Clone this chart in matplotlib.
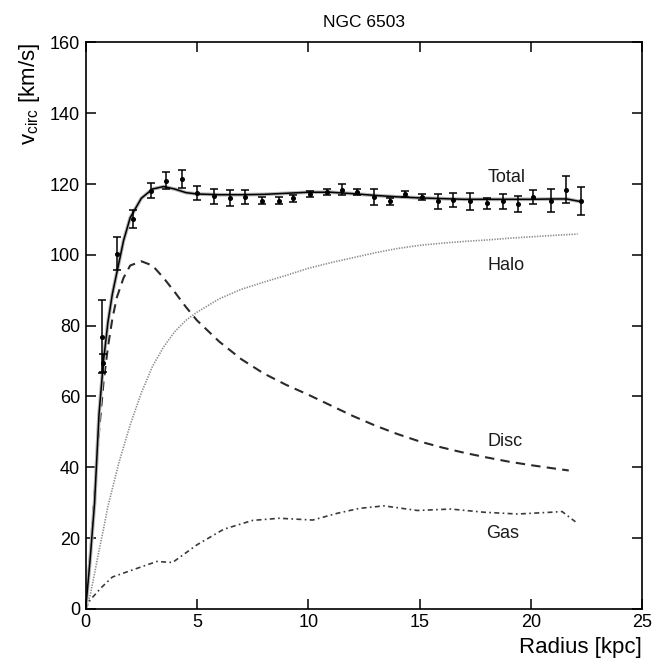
import numpy as np
import matplotlib.pyplot as plt

plt.rcParams['font.family'] = ['Liberation Sans', 'DejaVu Sans']
plt.rcParams['mathtext.default'] = 'regular'

# observed rotation curve
r_obs = [0.75, 0.78, 1.42, 2.14, 2.92, 3.61, 4.31, 4.99, 5.76, 6.48, 7.16, 7.91,
         8.70, 9.33, 10.08, 10.83, 11.53, 12.20, 12.95, 13.67, 14.34, 15.09,
         15.84, 16.51, 17.26, 18.04, 18.73, 19.43, 20.11, 20.89, 21.58, 22.25]
v_obs = [76.9, 69.4, 100.3, 110.1, 118.1, 121.0, 121.5, 117.4, 116.5, 116.0, 116.3,
         115.3, 115.3, 116.0, 117.2, 117.7, 118.4, 117.7, 116.3, 115.1, 117.2,
         116.3, 115.1, 115.5, 115.1, 114.6, 115.1, 114.4, 116.3, 115.3, 118.4, 115.3]
v_err = [10.4, 2.5, 4.7, 2.5, 2.1, 2.5, 2.5, 2.0, 2.0, 2.3, 2.0, 1.0,
         1.0, 1.0, 0.8, 0.8, 1.5, 0.8, 2.3, 1.0, 0.8, 0.8,
         2.0, 2.0, 2.5, 1.5, 2.0, 2.3, 2.0, 3.3, 3.8, 4.0]

# model components
r_tot = [0, 0.2, 0.4, 0.6, 0.8, 1.0, 1.2, 1.4, 1.7, 2.0, 2.5, 3.0, 3.5, 4.0, 4.5,
         5, 6, 7, 8, 9, 10, 11, 12, 13, 14, 15, 16, 17, 18, 19, 20, 21, 21.6, 22.2]
v_tot = [0, 14, 30, 55, 70, 81, 89, 95, 104, 110.5, 116, 118.6, 119.3, 118.6, 117.6,
         117.2, 117.0, 117.0, 117.1, 117.4, 117.7, 117.7, 117.3, 116.8, 116.4,
         116.1, 115.9, 115.7, 115.7, 115.7, 115.7, 115.8, 115.8, 115.1]

r_disc = [0, 0.2, 0.4, 0.6, 0.8, 1.0, 1.2, 1.4, 1.7, 2.0, 2.5, 3.0, 3.5, 4.0, 4.5,
          5, 6, 7, 8, 9, 10, 11, 12, 13, 14, 15, 16, 17, 18, 19, 20, 21, 21.7]
v_disc = [0, 15, 33, 50, 64, 74, 82, 88, 93.5, 97, 98.2, 97, 93.5, 89.5, 85.3,
          81.5, 75.5, 70.5, 66.5, 63.3, 60.5, 57.5, 54.5, 51.8, 49.4, 47.3, 45.6,
          44.1, 42.8, 41.6, 40.6, 39.7, 39.1]

r_halo = [0, 0.2, 0.4, 0.6, 0.8, 1.0, 1.5, 2.0, 2.5, 3.0, 3.5, 4.0, 4.5, 5, 6, 7, 8,
          9, 10, 11, 12, 13, 14, 15, 16, 17, 18, 19, 20, 21, 22.1]
v_halo = [0, 3.8, 10, 16.5, 22.5, 29, 41.5, 52, 61, 68.5, 74, 78.3, 81.5, 83.8, 87.6,
          90.3, 92.3, 94.2, 96.2, 97.8, 99.2, 100.6, 101.8, 102.7, 103.3, 103.8,
          104.2, 104.7, 105.1, 105.5, 105.9]

r_gas = [0, 0.2, 0.7, 1.2, 2.1, 3.2, 3.9, 5.0, 6.2, 7.5, 8.7, 10.2, 11.3, 12.3, 13.4,
         14.9, 16.4, 17.9, 19.4, 20.9, 21.4, 22.0]
v_gas = [0, 2.5, 6, 9, 11, 13.4, 13.1, 18.1, 22.5, 25.0, 25.6, 25.1, 27.0, 28.4, 29.1,
         27.8, 28.2, 27.3, 26.8, 27.3, 27.5, 24.6]

labels = ['Total', 'Halo', 'Disc', 'Gas']
label_r = [18.9, 18.9, 18.85, 18.75]
label_v = [121.9, 97.0, 47.3, 21.2]

fig = plt.figure(figsize=(6.54, 6.64), dpi=100)
ax = fig.add_axes([0.131, 0.083, 0.851, 0.853])

ax.plot(r_halo, v_halo, color='#8c8c8c', lw=1.2, ls=(0, (0.8, 0.8)))
ax.plot(r_disc, v_disc, color='#2a2a2a', lw=1.5, ls=(0, (4.5, 3)))
ax.plot(r_gas, v_gas, color='#3a3a3a', lw=1.2, ls=(0, (3, 2, 1, 2)))
ax.plot(r_tot, v_tot, color='#b4b4b4', lw=2.6, solid_capstyle='round')
ax.plot(r_tot, v_tot, color='black', lw=1.1)
ax.errorbar(r_obs, v_obs, yerr=v_err, fmt='o', color='black', ms=2.6,
            elinewidth=1.1, capsize=2.8, capthick=1.1)

for t, x, y in zip(labels, label_r, label_v):
    ax.text(x, y, t, fontsize=13, ha='center', va='center', color='#1a1a1a')

ax.set_xlim(0, 25)
ax.set_ylim(0, 160)
ax.set_xticks(np.arange(0, 26, 5))
ax.set_yticks(np.arange(0, 161, 20))
ax.tick_params(direction='in', length=7.5, width=1.1, labelsize=13,
               top=True, right=True, pad=4)
for s in ax.spines.values():
    s.set_linewidth(1.2)

ax.set_title('NGC 6503', fontsize=12.5, pad=11)
ax.set_xlabel('Radius [kpc]', fontsize=16, loc='right', labelpad=4)
ax.set_ylabel('v$_{circ}$ [km/s]', fontsize=16, loc='top', labelpad=6)

fig.savefig('out.png', dpi=100)
